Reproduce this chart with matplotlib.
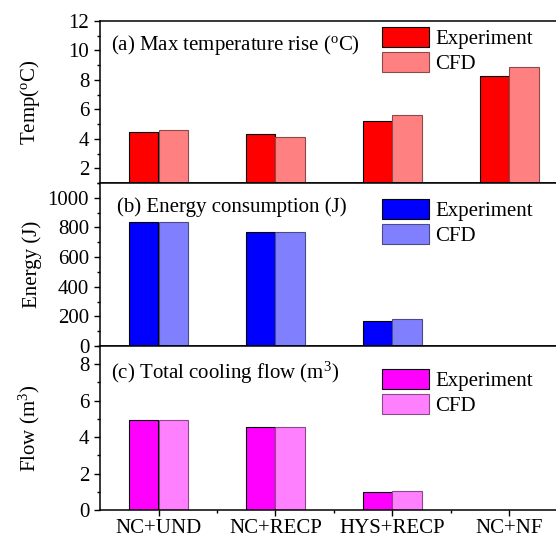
import matplotlib
matplotlib.use("Agg")
import matplotlib.pyplot as plt
import numpy as np
from matplotlib.ticker import MultipleLocator

plt.rcParams['font.family'] = ['Liberation Serif', 'DejaVu Serif']
plt.rcParams['mathtext.fontset'] = 'custom'
plt.rcParams['mathtext.rm'] = 'Liberation Serif'
plt.rcParams['mathtext.it'] = 'Liberation Serif:italic'
plt.rcParams['font.size'] = 15

cases = ["NC+UND", "NC+RECP", "HYS+RECP", "NC+NF"]

# max temperature rise (degC)
temp_exp = [4.45, 4.3, 5.2, 8.28]
temp_cfd = [4.6, 4.15, 5.65, 8.87]

# energy consumption (J)
energy_exp = [836, 766, 167, 0]
energy_cfd = [838, 768, 180, 0]

# total cooling flow (m3)
flow_exp = [4.96, 4.55, 0.99, 0]
flow_cfd = [4.96, 4.55, 1.05, 0]

panels = [
    dict(exp=temp_exp, cfd=temp_cfd, colors=("#ff0000", "#ff8080", "#8a4a4a"),
         ylim=(1, 12), major=2, minor=1, ylabel=r"Temp($^{\rm o}$C)",
         title=r"(a) Max temperature rise ($^{\rm o}$C)",
         rect=(21, 183), title_y=0.852, title_x=0.024, leg_y=0.963),
    dict(exp=energy_exp, cfd=energy_cfd, colors=("#0000ff", "#8080ff", "#4a4a8a"),
         ylim=(0, 1100), major=200, minor=100, ylabel="Energy (J)",
         title="(b) Energy consumption (J)",
         rect=(183, 346), title_y=0.853, title_x=0.036, leg_y=0.902),
    dict(exp=flow_exp, cfd=flow_cfd, colors=("#ff00ff", "#ff80ff", "#8a4a8a"),
         ylim=(0, 9), major=2, minor=1, ylabel=r"Flow (m$^3$)",
         title=r"(c) Total cooling flow (m$^3$)",
         rect=(346, 510), title_y=0.835, title_x=0.024, leg_y=0.86),
]

W, H = 556, 540
fig = plt.figure(figsize=(W / 100, H / 100), dpi=100)

x = np.arange(1, len(cases) + 1)
w = 0.248
left_px, width_px = 100, 468

for i, p in enumerate(panels):
    top, bot = p["rect"]
    ax = fig.add_axes([left_px / W, (H - bot) / H, width_px / W, (bot - top) / H])
    c_exp, c_cfd, c_edge = p["colors"]
    ax.bar(x - w / 2, p["exp"], w, color=c_exp, edgecolor="black", linewidth=0.8,
           label="Experiment")
    ax.bar(x + w / 2, p["cfd"], w, color=c_cfd, edgecolor=c_edge, linewidth=0.8,
           label="CFD")

    ax.set_xlim(0.5, 4.5)
    ax.set_ylim(*p["ylim"])
    ax.yaxis.set_major_locator(MultipleLocator(p["major"]))
    ax.yaxis.set_minor_locator(MultipleLocator(p["minor"]))
    ax.set_xticks(x)
    ax.set_xticks(x[:-1] + 0.5, minor=True)
    if i == len(panels) - 1:
        ax.set_xticklabels(cases)
    else:
        ax.set_xticklabels([])

    ax.tick_params(axis="both", which="major", direction="out", length=4.3,
                   width=1, labelsize=15)
    ax.tick_params(axis="both", which="minor", direction="out", length=2.2, width=1)
    ax.tick_params(axis="x", which="major", pad=2)
    ax.tick_params(axis="y", which="major", pad=3.5)
    for s in ax.spines.values():
        s.set_linewidth(1.1)

    ax.set_ylabel(p["ylabel"], fontsize=15)
    ax.yaxis.set_label_coords(-0.125, 0.5)

    ax.text(p["title_x"], p["title_y"], p["title"], transform=ax.transAxes,
            ha="left", va="center", fontsize=15)

    ax.legend(loc="upper left", bbox_to_anchor=(0.603, p["leg_y"]), frameon=False,
              fontsize=15, handlelength=2.26, handleheight=1.1, handletextpad=0.3,
              labelspacing=0.15, borderpad=0, borderaxespad=0)

fig.savefig("out.png", dpi=100)
